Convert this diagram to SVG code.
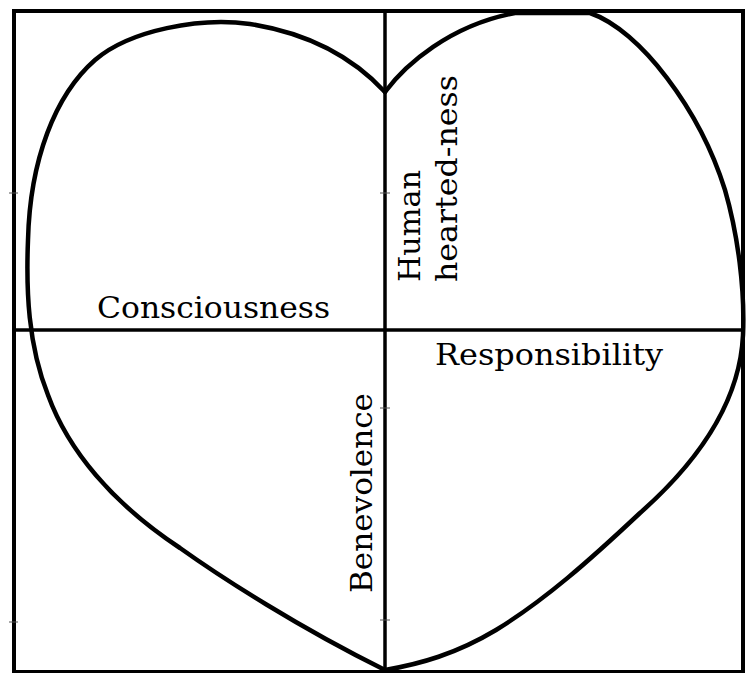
<svg xmlns="http://www.w3.org/2000/svg" width="746" height="673" viewBox="0 0 746 673">
<style>
.frame{fill:none;stroke:#000;stroke-width:4}
.div{stroke:#000;stroke-width:3.5}
.heart{fill:none;stroke:#000;stroke-width:4.5;stroke-linejoin:round;stroke-linecap:round}
.tick{stroke:#555;stroke-width:1}
.lbl{font-family:"DejaVu Serif","Liberation Serif",serif;font-size:29px;fill:#000}
</style>
<rect width="746" height="673" fill="#fff"/>
<g id="frame">
<rect class="frame" x="14" y="11" width="729" height="661"/>
</g>
<g id="connectors">
<line class="div" x1="385" y1="11" x2="385" y2="672"/>
<line class="div" x1="14" y1="330" x2="743" y2="330"/>
<line class="tick" x1="9" y1="193" x2="18" y2="193"/>
<line class="tick" x1="9" y1="622" x2="18" y2="622"/>
<line class="tick" x1="380" y1="193" x2="390" y2="193"/>
<line class="tick" x1="380" y1="408" x2="390" y2="408"/>
<line class="tick" x1="380" y1="620" x2="390" y2="620"/>
</g>
<g id="heart">
<path class="heart" d="M385,92 C360,65 320,35 250,24 C200,17 130,30 95,60 C55,95 30,160 28,240 C26,290 28,345 48,395 C68,450 112,503 180,548 C222,578 300,628 385,670"/>
<path class="heart" d="M385,92 C405,65 450,25 515,13 L590,13 C640,30 700,110 725,190 C738,235 745,290 743,335 C740,400 700,460 640,513 C590,560 545,600 496,630 C456,654 420,664 385,670"/>
</g>
<g id="consciousness">
<text class="lbl" x="97" y="318" textLength="233" lengthAdjust="spacingAndGlyphs">Consciousness</text>
</g>
<g id="responsibility">
<text class="lbl" x="435" y="365" textLength="228" lengthAdjust="spacingAndGlyphs">Responsibility</text>
</g>
<g id="humanheartedness">
<text class="lbl" x="420" y="282" transform="rotate(-90 420 282)" textLength="112" lengthAdjust="spacingAndGlyphs">Human</text>
<text class="lbl" x="457" y="282" transform="rotate(-90 457 282)" textLength="207" lengthAdjust="spacingAndGlyphs">hearted-ness</text>
</g>
<g id="benevolence">
<text class="lbl" x="372" y="593" transform="rotate(-90 372 593)" textLength="200" lengthAdjust="spacingAndGlyphs">Benevolence</text>
</g>
</svg>
